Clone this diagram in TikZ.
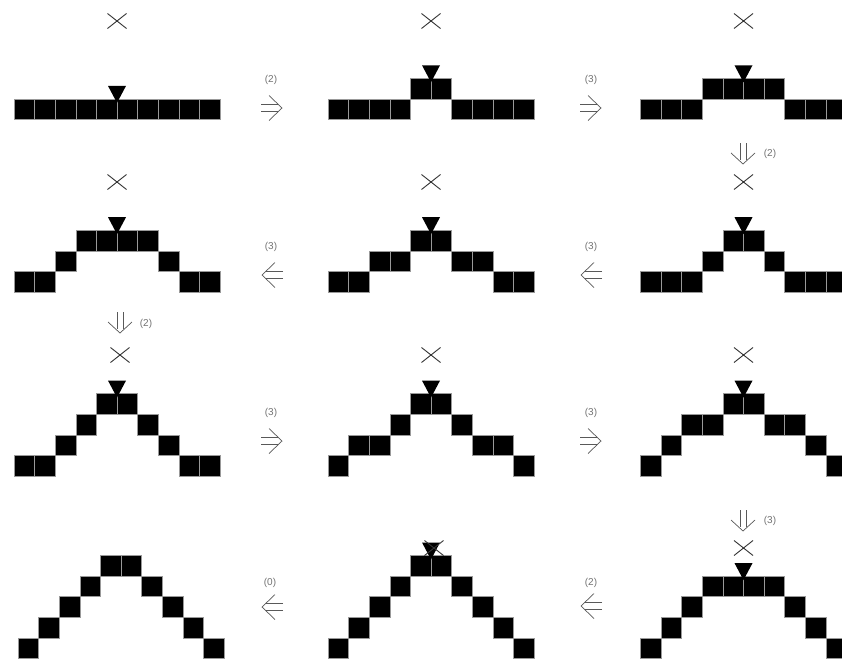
\documentclass[tikz,border=0pt]{standalone}
\usepackage{fontspec}
\setmainfont{Liberation Sans}
\def\cellw{20.6}
\newcommand\drawpile[3]{%
  \foreach \h [count=\i from 0] in {#3} {%
    \path[sqcell] ({#1+(\i-5)*\cellw},{#2-\h*\cellw}) rectangle ++(\cellw,-\cellw);
  }}
\begin{document}
\begin{tikzpicture}[x=1pt,y=-1pt,
  sqcell/.style={fill=black,draw=black!40,line width=0.6pt},
  crossline/.style={draw=black!80,line width=0.9pt},
  arrline/.style={draw=black!65,line width=0.7pt},
  lab/.style={font=\fontsize{10}{11}\selectfont,text=black!55,inner sep=0pt},
  rarr/.pic={\draw[arrline] (-11,-3.5) -- (6,-3.5) (-11,3.5) -- (6,3.5);
             \draw[arrline] (-3,-12.5) -- (10,0) -- (-3,12.5);},
  larr/.pic={\draw[arrline] (11,-3.5) -- (-6,-3.5) (11,3.5) -- (-6,3.5);
             \draw[arrline] (3,-12.5) -- (-10,0) -- (3,12.5);},
  darr/.pic={\draw[arrline] (-3,-11) -- (-3,6) (3,-11) -- (3,6);
             \draw[arrline] (-12,-1) -- (0,10) -- (12,-1);},
  xcross/.pic={\draw[crossline] (-9.5,-7.5) -- (9.5,7.5) (-9.5,7.5) -- (9.5,-7.5);},
  tri/.pic={\fill[black] (-9,-13) -- (9,-13) -- (0,4) -- cycle;}
]
\fill[white] (0,0) rectangle (842,659);
\useasboundingbox (0,0) rectangle (842,659);

% ---------- row 1 ----------
\drawpile{117}{119.5}{0,0,0,0,0,0,0,0,0,0}
\drawpile{431}{119.5}{0,0,0,0,1,1,0,0,0,0}
\drawpile{743.5}{119.5}{0,0,0,1,1,1,1,0,0,0}
\pic at (117,{119.5-1*\cellw}) {tri};
\pic at (431,{119.5-2*\cellw}) {tri};
\pic at (743.5,{119.5-2*\cellw}) {tri};
\pic at (117,21) {xcross};
\pic at (431,21) {xcross};
\pic at (743.5,21) {xcross};
\pic at (272,108) {rarr};
\node[lab] (l1a) at (271,80) {(2)};
\pic at (591,108) {rarr};
\node[lab] (l1b) at (591,80) {(3)};

% ---------- row 2 ----------
\pic at (743,154) {darr};
\node[lab] (l2d) at (770,154) {(2)};
\drawpile{117}{292}{0,0,1,2,2,2,2,1,0,0}
\drawpile{431}{292}{0,0,1,1,2,2,1,1,0,0}
\drawpile{743.5}{292}{0,0,0,1,2,2,1,0,0,0}
\pic at (117,{292-3*\cellw}) {tri};
\pic at (431,{292-3*\cellw}) {tri};
\pic at (743.5,{292-3*\cellw}) {tri};
\pic at (117,182) {xcross};
\pic at (431,182) {xcross};
\pic at (743.5,182) {xcross};
\pic at (272,275) {larr};
\node[lab] (l2a) at (271,247) {(3)};
\pic at (591,275) {larr};
\node[lab] (l2b) at (591,247) {(3)};

% ---------- row 3 ----------
\pic at (120,323) {darr};
\node[lab] (l3d) at (146,324) {(2)};
\drawpile{117}{476}{0,0,1,2,3,3,2,1,0,0}
\drawpile{431}{476}{0,1,1,2,3,3,2,1,1,0}
\drawpile{743.5}{476}{0,1,2,2,3,3,2,2,1,0}
\pic at (117,{476-4*\cellw}) {tri};
\pic at (431,{476-4*\cellw}) {tri};
\pic at (743.5,{476-4*\cellw}) {tri};
\pic at (120,355) {xcross};
\pic at (431,355) {xcross};
\pic at (743.5,355) {xcross};
\pic at (272,441) {rarr};
\node[lab] (l3a) at (271,413) {(3)};
\pic at (591,441) {rarr};
\node[lab] (l3b) at (591,413) {(3)};

% ---------- row 4 ----------
\pic at (743,521) {darr};
\node[lab] (l4d) at (770,521) {(3)};
\drawpile{121}{658.5}{0,1,2,3,4,4,3,2,1,0}
\drawpile{431}{658.5}{0,1,2,3,4,4,3,2,1,0}
\drawpile{743.5}{658.5}{0,1,2,3,3,3,3,2,1,0}
\pic at (431,{658.5-5*\cellw}) {tri};
\pic at (743.5,{658.5-4*\cellw}) {tri};
\pic at (434,548) {xcross};
\pic at (743.5,548) {xcross};
\pic at (272,607) {larr};
\node[lab] (l4a) at (270,583) {(0)};
\pic at (591,606) {larr};
\node[lab] (l4b) at (591,583) {(2)};
\end{tikzpicture}
\end{document}
